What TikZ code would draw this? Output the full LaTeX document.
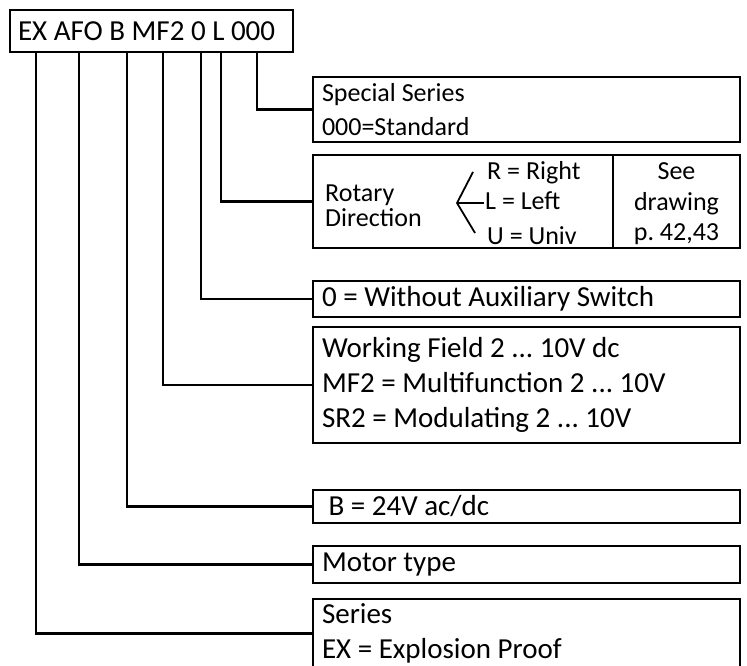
\documentclass[tikz,border=0pt]{standalone}
\usepackage{fontspec}
\setmainfont{Carlito}
\usetikzlibrary{positioning,calc}
\frenchspacing

\begin{document}
\begin{tikzpicture}[x=1pt,y=-1pt,lead/.style={line width=2.6pt},fork/.style={line width=1.8pt},
box/.style={draw,line width=2.6pt,anchor=west,outer sep=0pt,minimum width=427pt,inner xsep=9pt,inner ysep=0pt,text width=409pt,align=flush left,font=\fontsize{29}{35}\selectfont},
sm/.style={font=\fontsize{26}{34}\selectfont},dir/.style={sm,anchor=base west,inner sep=0pt}]
\useasboundingbox (0,0) rectangle (747,666);
\node[box,anchor=north west,minimum width=283pt,text width=267pt,inner xsep=8pt,minimum height=42pt] (code) at (10,10) {EX AFO B MF2 0 L 000};
\node[box,sm,minimum height=65pt] (special) at (313,109.5) {Special Series\\000=Standard};
\node[box,minimum height=93pt] (rot) at (313,201.5) {};
\node[anchor=west,align=left,inner sep=0pt,font=\fontsize{26}{25}\selectfont] (rotlbl) at (325,206) {Rotary\\Direction};
\node[dir] (dirR) at (487,179) {R = Right};
\node[dir] (dirL) at (485,209) {L = Left};
\node[dir] (dirU) at (487,244) {U = Univ};
\coordinate (split) at (457,203);
\draw[fork] ([xshift=-14pt,yshift=7pt]dirR.base west) -- (split) -- ([xshift=-12pt,yshift=11pt]dirU.base west);
\draw[fork] (split) -- ([xshift=-1pt,yshift=6pt]dirL.base west);
\draw[lead] ([xshift=300pt]rot.north west) -- ([xshift=300pt]rot.south west);
\node[align=center,inner sep=0pt,font=\fontsize{26}{30.5}\selectfont] (see) at (676.5,204) {See\\drawing\\p. 42,43};
\node[box,minimum height=36pt] (zero) at (313,299) {0 = Without Auxiliary Switch};
\node[box,minimum height=116pt] (field) at (313,385) {Working Field 2 ... 10V dc\\MF2 = Multifunction 2 ... 10V\\SR2 = Modulating 2 ... 10V};
\node[box,minimum height=33pt] (volt) at (313,506.5) {\ B = 24V ac/dc};
\node[box,minimum height=37pt] (motor) at (313,564.5) {Motor type};
\node[box,minimum height=69pt] (series) at (313,633.5) {Series\\EX = Explosion Proof};
% one lead per code letter group
\draw[lead] ([xshift=247pt]code.south west) |- (special.west);
\draw[lead] ([xshift=211pt]code.south west) |- (rot.west);
\draw[lead] ([xshift=191pt]code.south west) |- (zero.west);
\draw[lead] ([xshift=153pt]code.south west) |- (field.west);
\draw[lead] ([xshift=117pt]code.south west) |- (volt.west);
\draw[lead] ([xshift=69pt]code.south west) |- (motor.west);
\draw[lead] ([xshift=26pt]code.south west) |- (series.west);
\end{tikzpicture}
\end{document}
